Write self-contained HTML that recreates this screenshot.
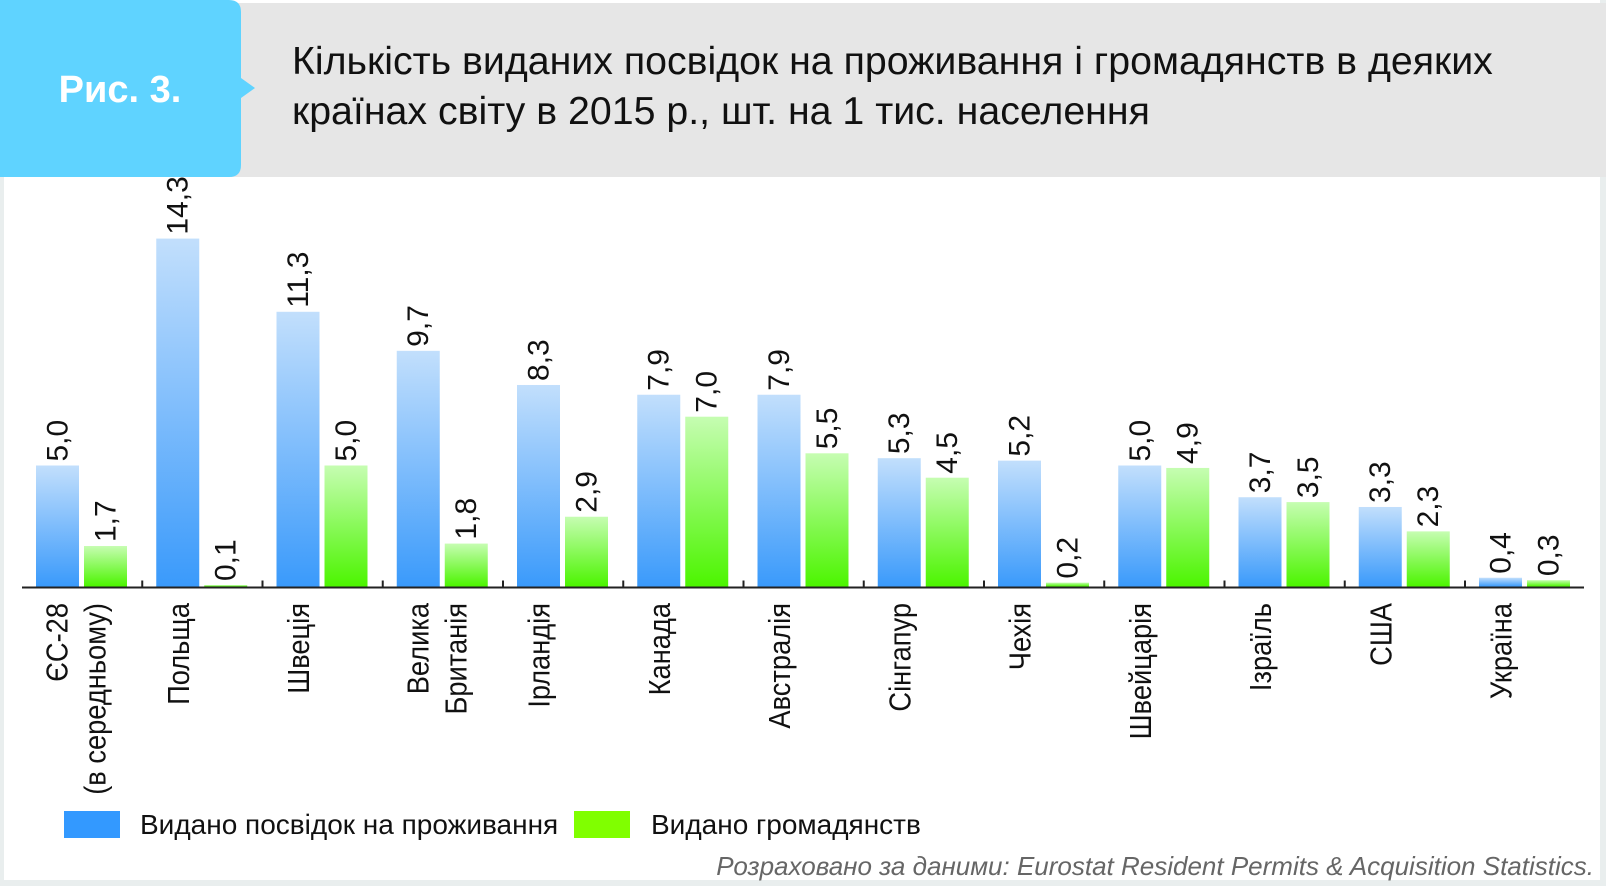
<!DOCTYPE html>
<html><head><meta charset="utf-8"><style>
html,body{margin:0;padding:0;background:#fff;}
#wrap{position:relative;width:1606px;height:886px;overflow:hidden;background:#fff;font-family:"Liberation Sans",sans-serif;}
</style></head><body>
<div id="wrap">
<svg width="1606" height="886" viewBox="0 0 1606 886" xmlns="http://www.w3.org/2000/svg" font-family="Liberation Sans, sans-serif">
<defs>
<linearGradient id="gb" x1="0" y1="0" x2="0" y2="1"><stop offset="0" stop-color="#c2dffc"/><stop offset="1" stop-color="#3a9afb"/></linearGradient>
<linearGradient id="gg" x1="0" y1="0" x2="0" y2="1"><stop offset="0" stop-color="#c6fdb2"/><stop offset="1" stop-color="#4cf500"/></linearGradient>
</defs>
<rect x="0" y="0" width="1606" height="886" fill="#e9eeee"/>
<rect x="4" y="0" width="1596" height="880" fill="#fff"/>
<rect x="0" y="3" width="1606" height="174" fill="#e6e6e6"/>
<path d="M0 0 H229 Q241 0 241 12 V78 L255 88 L241 98 V165 Q241 177 229 177 H0 Z" fill="#5fd3ff"/>
<text x="120" y="102" fill="#fff" font-size="38" font-weight="bold" text-anchor="middle">Рис. 3.</text>
<text x="292" y="74" fill="#111" font-size="39.3"><tspan x="292">Кількість виданих посвідок на проживання і громадянств в деяких</tspan><tspan x="292" dy="50">країнах світу в 2015 р., шт. на 1 тис. населення</tspan></text>
<g id="chart"></g>
<rect x="64" y="811" width="56" height="27" fill="#3399ff"/>
<text x="140" y="834" font-size="28" fill="#111">Видано посвідок на проживання</text>
<rect x="574" y="811" width="56" height="27" fill="#80ff00"/>
<text x="651" y="834" font-size="28" fill="#111">Видано громадянств</text>
<text x="1594" y="875" font-size="26" font-style="italic" fill="#666" text-anchor="end">Розраховано за даними: Eurostat Resident Permits &amp; Acquisition Statistics.</text>
</svg>
</div>
<script>
const categories = [["ЄС-28","(в середньому)"],["Польща"],["Швеція"],["Велика","Британія"],["Ірландія"],["Канада"],["Австралія"],["Сінгапур"],["Чехія"],["Швейцарія"],["Ізраїль"],["США"],["Україна"]];
const permits = [5.0,14.3,11.3,9.7,8.3,7.9,7.9,5.3,5.2,5.0,3.7,3.3,0.4];
const citizenship = [1.7,0.1,5.0,1.8,2.9,7.0,5.5,4.5,0.2,4.9,3.5,2.3,0.3];

const NS="http://www.w3.org/2000/svg";
const g=document.getElementById('chart');
const base=587.5, scale=24.4, x0=36, pitch=120.25, bw=43, gap=5;
const yScale=v=>base-v*scale;
const xGroup=i=>x0+i*pitch;
function mk(tag,attrs){const e=document.createElementNS(NS,tag);for(const k in attrs)e.setAttribute(k,attrs[k]);g.appendChild(e);return e;}
const fmt=v=>v.toFixed(1).replace('.',',');
const axis=mk('line',{x1:22,y1:base,x2:1584,y2:base,stroke:'#222','stroke-width':2});


categories.forEach((c,i)=>{
  const gx=xGroup(i);
  if(i>0){const t=mk('line',{x1:gx-14,y1:base-7,x2:gx-14,y2:base,stroke:'#222','stroke-width':2});
    
    }
  [[permits,'url(#gb)',0,'bar-permits'],[citizenship,'url(#gg)',bw+gap,'bar-citizenship']].forEach(([arr,fill,off,name])=>{
    const v=arr[i],x=gx+off,y=yScale(v);
    const r=mk('rect',{x:x,y:y,width:bw,height:base-1-y,fill:fill});
    
    
    const cx=x+bw/2+10,ty=y-4;
    const t=mk('text',{x:cx,y:ty,'font-size':30,fill:'#111',transform:`rotate(-90 ${cx} ${ty})`});
    t.textContent=fmt(v);
    
    
  });
  const cx=gx+bw/2+(c.length>1?0:1);
  c.forEach((line,j)=>{
    const lx=cx+10+j*38, ly=603;
    const t=mk('text',{x:0,y:0,'font-size':31,fill:'#111','text-anchor':'end',transform:`translate(${lx} ${ly}) rotate(-90) scale(0.88 1)`});
    t.textContent=line;
    
    
  });
});
</script>
</body></html>
